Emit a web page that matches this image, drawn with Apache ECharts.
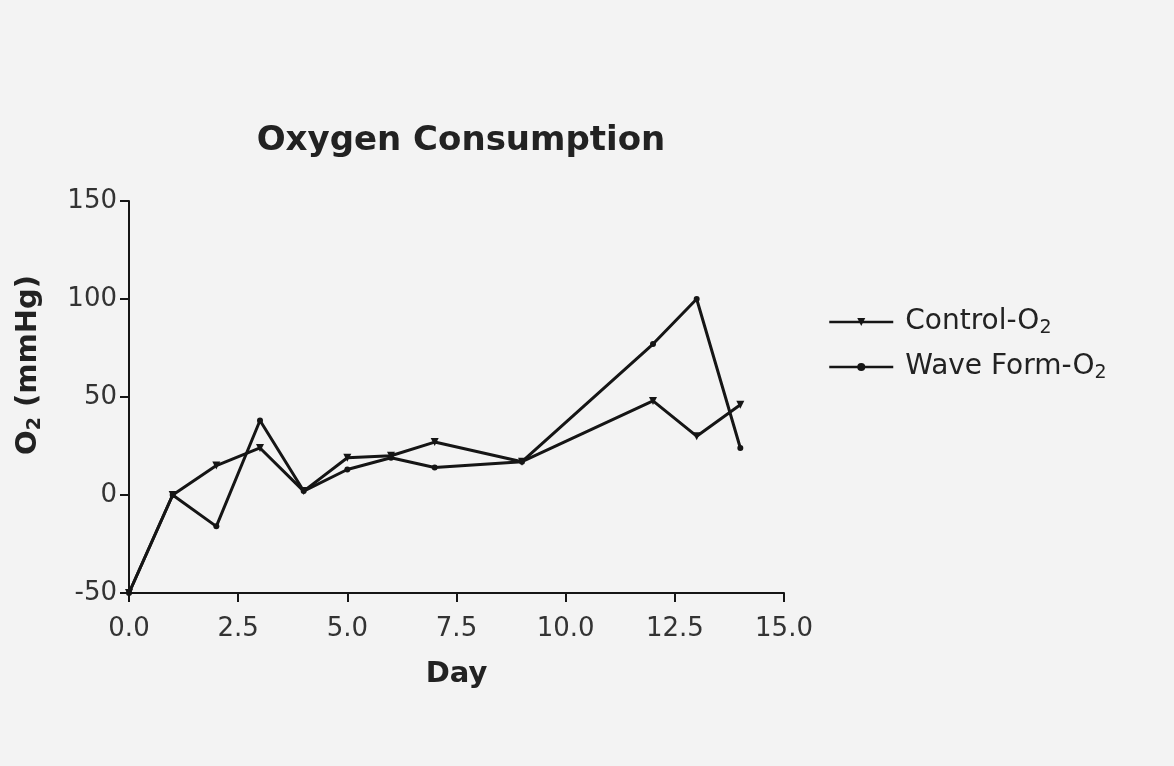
<!DOCTYPE html>
<html lang="en">

<head>
    <meta charset="UTF-8">
    <title>Oxygen Consumption</title>
    <style>
        html,
        body {
            margin: 0;
            padding: 0;
            background: #f3f3f3;
        }

        #chartmain {
            width: 1174px;
            height: 766px;
        }
    </style>
</head>

<body>
    <div id="chartmain"></div>
    <script src="https://cdn.jsdelivr.net/npm/echarts@6/dist/echarts.min.js"></script>
    <script type="text/javascript">
        // values
        var days = [0, 1, 2, 3, 4, 5, 6, 7, 9, 12, 13, 14];
        var controlO2 = [-50, 0, 15, 24, 2, 19, 20, 27, 17, 48, 30, 46];
        var waveO2 = [-50, 0, -16, 38, 2, 13, 19, 14, 17, 77, 100, 24];
        var seriesNames = ['Control-O2', 'Wave Form-O2'];

        var ink = '#151515';
        var font = 'DejaVu Sans';

        var pairs = (ys) => days.map((d, i) => [d, ys[i]]);

        var mychart = echarts.init(document.getElementById('chartmain'));
        var option = {
            backgroundColor: '#f3f3f3',
            animation: false,
            title: {
                text: 'Oxygen Consumption',
                left: 456,
                textAlign: 'center',
                top: 119,
                textStyle: {
                    fontFamily: font,
                    fontSize: 34,
                    fontWeight: 'bold',
                    color: '#222'
                }
            },
            grid: {
                left: 129,
                right: 390,
                top: 201,
                bottom: 173
            },
            legend: {
                orient: 'vertical',
                left: 823,
                top: 302,
                itemWidth: 64,
                itemHeight: 10,
                itemGap: 14,
                data: seriesNames,
                lineStyle: { width: 2.5 },
                formatter: (name) => '{n|' + name.replace('O2', 'O') + '}{s|2}',
                textStyle: {
                    padding: [0, 0, 0, 7],
                    rich: {
                        n: {
                            fontFamily: font,
                            fontSize: 28,
                            color: '#222',
                            lineHeight: 32
                        },
                        s: {
                            fontFamily: font,
                            fontSize: 19,
                            color: '#222',
                            verticalAlign: 'bottom',
                            lineHeight: 32,
                            padding: [12, 0, 0, 0]
                        }
                    }
                }
            },
            xAxis: {
                type: 'value',
                min: 0,
                max: 15,
                interval: 2.5,
                name: 'Day',
                nameLocation: 'middle',
                nameGap: 67,
                nameTextStyle: {
                    fontFamily: font,
                    fontSize: 29,
                    fontWeight: 'bold',
                    color: '#222'
                },
                axisLine: {
                    onZero: false,
                    lineStyle: { color: ink, width: 2 }
                },
                axisTick: {
                    length: 9,
                    lineStyle: { color: ink, width: 2 }
                },
                axisLabel: {
                    margin: 23,
                    fontFamily: font,
                    fontSize: 26,
                    color: '#333',
                    formatter: (v) => v.toFixed(1)
                },
                splitLine: { show: false }
            },
            yAxis: {
                type: 'value',
                min: -50,
                max: 150,
                interval: 50,
                name: '{b|O}{s|2}{b| (mmHg)}',
                nameLocation: 'middle',
                nameGap: 84,
                nameRotate: 90,
                nameTextStyle: {
                    padding: [0, 0, 0, 64],
                    rich: {
                        b: {
                            fontFamily: font,
                            fontSize: 29,
                            fontWeight: 'bold',
                            color: '#222',
                            lineHeight: 34
                        },
                        s: {
                            fontFamily: font,
                            fontSize: 19,
                            fontWeight: 'bold',
                            color: '#222',
                            verticalAlign: 'bottom',
                            lineHeight: 34,
                            padding: [12, 0, 0, 0]
                        }
                    }
                },
                axisLine: {
                    show: true,
                    onZero: false,
                    lineStyle: { color: ink, width: 2 }
                },
                axisTick: {
                    show: true,
                    length: 9,
                    lineStyle: { color: ink, width: 2 }
                },
                axisLabel: {
                    margin: 12,
                    fontFamily: font,
                    fontSize: 26,
                    color: '#333'
                },
                splitLine: { show: false }
            },
            series: [{
                    name: seriesNames[0],
                    type: 'line',
                    data: pairs(controlO2),
                    symbol: 'triangle',
                    symbolRotate: 180,
                    symbolSize: 8,
                    lineStyle: { color: ink, width: 3 },
                    itemStyle: { color: ink }
                },
                {
                    name: seriesNames[1],
                    type: 'line',
                    data: pairs(waveO2),
                    symbol: 'circle',
                    symbolSize: 6,
                    lineStyle: { color: ink, width: 3 },
                    itemStyle: { color: ink }
                }
            ]
        };
        mychart.setOption(option, true);
    </script>
</body>

</html>
